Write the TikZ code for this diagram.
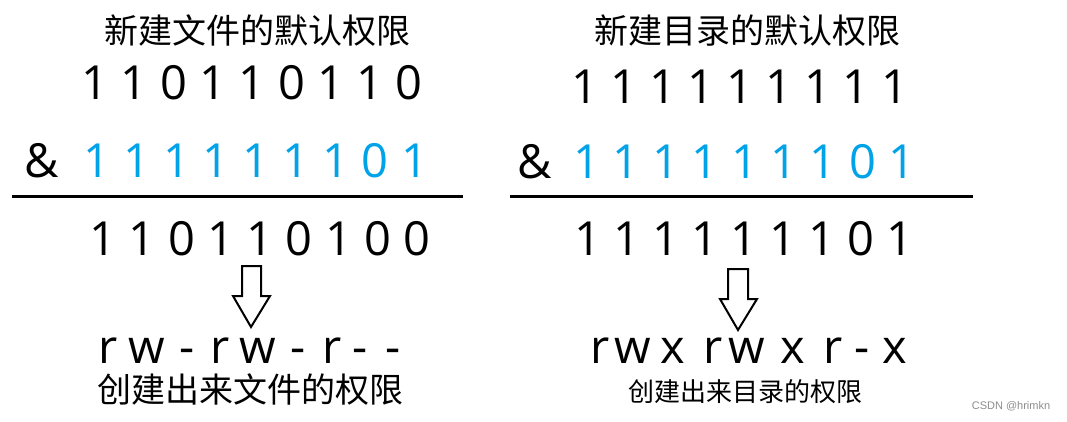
\documentclass[tikz,border=0pt]{standalone}
\usepackage{fontspec}
\setmainfont{Open Sans}
\newfontfamily\cjk{Noto Sans CJK SC}
\newfontfamily\markfont{Liberation Sans}
\definecolor{maskblue}{RGB}{0,162,232}
\tikzset{
  bit/.style={inner sep=0pt, anchor=base, font=\fontsize{47}{47}\selectfont},
  maskbit/.style={bit, text=maskblue},
  title/.style={inner sep=0pt, font=\cjk\fontsize{34}{34}\selectfont},
  result/.style={line width=3pt},
  bigarrow/.style={draw, line width=2pt, fill=white, line join=miter}
}
\begin{document}
\begin{tikzpicture}[x=1pt,y=-1pt]
  \useasboundingbox (0,0) rectangle (1067,421);
  % left: new file
  \node[title] (ftitle) at (257,31) {新建文件的默认权限};
  \foreach \b [count=\i from 0] in {1,1,0,1,1,0,1,1,0}{
    \node[bit] (fa\i) at (95+39.3*\i,99) {\b};
  }
  \node[bit] (fand) at (42,177) {\&};
  \foreach \b [count=\i from 0] in {1,1,1,1,1,1,1,0,1}{
    \node[maskbit] (fm\i) at (97+39.75*\i,177) {\b};
  }
  \draw[result] (12,196) -- (463,196);
  \foreach \b [count=\i from 0] in {1,1,0,1,1,0,1,0,0}{
    \node[bit] (fr\i) at (103+39.25*\i,255) {\b};
  }
  \draw[bigarrow] (242,266) -- (261,266) -- (261,296) -- (270,296)
    -- (251,327) -- (233,296) -- (242,296) -- cycle;
  \foreach \c/\x [count=\i from 0] in {r/108,w/147,-/187,r/220,w/258,-/298,r/332,-/360,-/393}{
    \node[bit] (fp\i) at (\x,363) {\c};
  }
  \node[title] (fcap) at (250,390) {创建出来文件的权限};

  % right: new directory
  \node[title] (dtitle) at (747,31) {新建目录的默认权限};
  \foreach \b [count=\i from 0] in {1,1,1,1,1,1,1,1,1}{
    \node[bit] (da\i) at (585+38.75*\i,103) {\b};
  }
  \node[bit] (dand) at (535,178) {\&};
  \foreach \b [count=\i from 0] in {1,1,1,1,1,1,1,0,1}{
    \node[maskbit] (dm\i) at (587+39.4*\i,178) {\b};
  }
  \draw[result] (510,196) -- (973,196);
  \foreach \b [count=\i from 0] in {1,1,1,1,1,1,1,0,1}{
    \node[bit] (dr\i) at (588+39*\i,255) {\b};
  }
  \draw[bigarrow] (728,269) -- (748,269) -- (748,299) -- (757,299)
    -- (738,330) -- (720,299) -- (728,299) -- cycle;
  \foreach \c/\x [count=\i from 0] in {r/600,w/633,x/673,r/713,w/747,x/793,r/833,-/862,x/895}{
    \node[bit] (dp\i) at (\x,363) {\c};
  }
  \node[title, font=\cjk\fontsize{26}{26}\selectfont] (dcap) at (745,392) {创建出来目录的权限};

  \node[inner sep=0pt, text=black!45, font=\markfont\fontsize{11}{11}\selectfont] (mark) at (1011,406) {CSDN @hrimkn};
\end{tikzpicture}
\end{document}
